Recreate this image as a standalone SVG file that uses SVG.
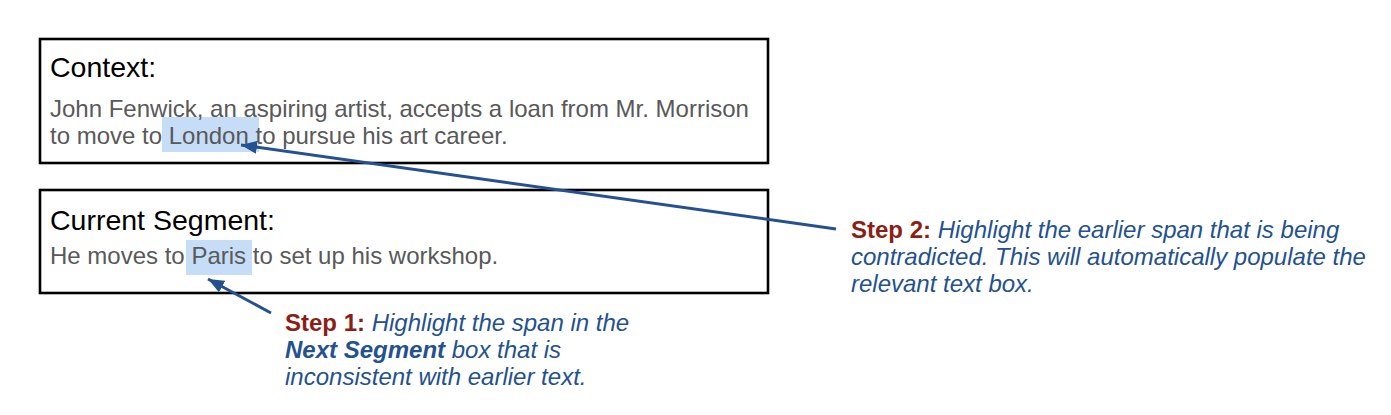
<svg xmlns="http://www.w3.org/2000/svg" width="1391" height="415" viewBox="0 0 1391 415">
  <style>
    .box { fill: #ffffff; stroke: #000000; stroke-width: 2.6; }
    .hl { fill: #c6ddf8; }
    .title { font-family: "Liberation Sans", Arial, sans-serif; font-size: 28.5px; fill: #000000; }
    .body { font-family: "Liberation Sans", Arial, sans-serif; font-size: 24px; fill: #595959; }
    .step { font-family: "Liberation Sans", Arial, sans-serif; font-size: 24px; font-style: italic; fill: #24518f; }
    .lbl { font-weight: bold; font-style: normal; fill: #8b1e15; }
    .em { font-weight: bold; }
    .conn { stroke: #24518f; stroke-width: 3; fill: none; }
  </style>
  <defs>
    <marker id="ah" markerUnits="userSpaceOnUse" markerWidth="18" markerHeight="14" refX="16" refY="6.5" orient="auto">
      <path d="M0,0 L16,6.5 L0,13 z" fill="#24518f"/>
    </marker>
  </defs>
  <rect width="1391" height="415" fill="#ffffff"/>

  <g id="context">
    <rect class="box" x="40" y="39" width="728" height="124"/>
    <rect class="hl" x="162" y="117" width="97" height="35"/>
    <text class="title" x="50" y="77">Context:</text>
    <text class="body" x="50" y="117">John Fenwick, an aspiring artist, accepts a loan from Mr. Morrison</text>
    <text class="body" x="50" y="144">to move to London to pursue his art career.</text>
  </g>

  <g id="current-segment">
    <rect class="box" x="40" y="190" width="728" height="103"/>
    <rect class="hl" x="186" y="240" width="66" height="35"/>
    <text class="title" x="50" y="230">Current Segment:</text>
    <text class="body" x="50" y="264">He moves to Paris to set up his workshop.</text>
  </g>

  <g id="step1">
    <text class="step" x="285" y="331"><tspan class="lbl">Step 1:</tspan> Highlight the span in the</text>
    <text class="step" x="285" y="358"><tspan class="em">Next Segment</tspan> box that is</text>
    <text class="step" x="285" y="385">inconsistent with earlier text.</text>
  </g>

  <g id="step2">
    <text class="step" x="851" y="237.5"><tspan class="lbl">Step 2:</tspan> Highlight the earlier span that is being</text>
    <text class="step" x="851" y="265">contradicted. This will automatically populate the</text>
    <text class="step" x="851" y="292">relevant text box.</text>
  </g>

  <g id="connectors">
    <line class="conn" x1="271" y1="313" x2="208" y2="279" marker-end="url(#ah)"/>
    <line class="conn" x1="836" y1="229" x2="241" y2="145" marker-end="url(#ah)"/>
  </g>
</svg>
